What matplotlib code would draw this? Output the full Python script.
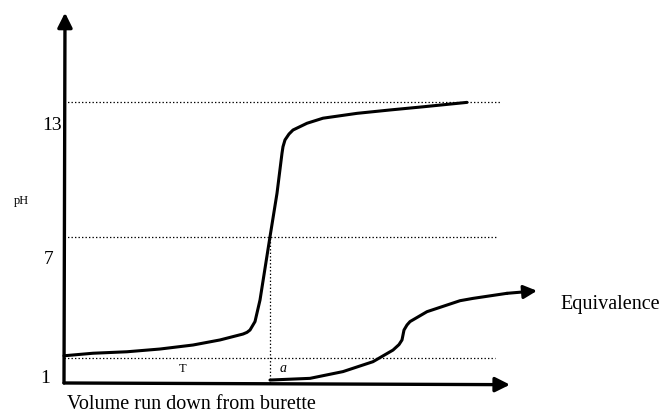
"""Titration curve sketch: pH vs volume run down from burette."""
import matplotlib
matplotlib.use("Agg")
import matplotlib.pyplot as plt

# curve 1: steep jump (volume units arbitrary, pH)
vol_a = [0.0, 2.9, 6.3, 9.6, 12.9, 15.6, 17.9, 18.3, 18.6, 19.1, 19.6, 20.6,
         21.3, 21.8, 21.9, 22.1, 22.5, 22.9, 24.3, 25.9, 29.3, 32.6, 35.9, 40.3]
ph_a = [2.29, 2.41, 2.48, 2.61, 2.80, 3.04, 3.32, 3.40, 3.51, 3.91, 4.93, 7.93,
        9.99, 11.89, 12.20, 12.52, 12.80, 12.99, 13.31, 13.55, 13.78, 13.94,
        14.09, 14.30]

# curve 2: slow rise, ends in an arrow
vol_b = [20.6, 24.6, 27.9, 30.9, 32.9, 33.5, 33.8, 34.0, 34.3, 34.6, 36.3,
         39.6, 40.9, 44.3]
ph_b = [1.14, 1.22, 1.54, 2.01, 2.56, 2.82, 3.04, 3.51, 3.75, 3.91, 4.38,
        4.90, 5.01, 5.25]
arrow_b_tip = (47.3, 5.37)

# dotted guides
guide_ph = [14.34, 7.93, 2.17]
guide_end = [43.6, 43.3, 43.1]
equiv_vol = 20.6
equiv_ph = 7.93

tick_labels = ["13", "7", "1"]
tick_pos = [(-1.2, 13.20), (-1.5, 6.83), (-1.9, 1.19)]

SERIF = ["Liberation Serif", "DejaVu Serif"]

fig = plt.figure(figsize=(6.66, 4.2), dpi=100)
ax = fig.add_axes([0, 0, 1, 1])
ax.set_xlim(-6.4, 60.2)
ax.set_ylim(-0.754, 19.152)
ax.axis("off")

# axes as arrows
arr = dict(arrowstyle="-|>", lw=2.4, color="black", mutation_scale=22,
           shrinkA=0, shrinkB=0)
ax.annotate("", xy=(0.1, 18.55), xytext=(0, 1.0), arrowprops=arr)
ax.annotate("", xy=(44.6, 0.92), xytext=(0, 1.0), arrowprops=arr)

# dotted guides
dots = (0, (1.1, 1.7))
for y, x1 in zip(guide_ph, guide_end):
    ax.plot([0, x1], [y, y], color="black", lw=0.9, ls=dots)
ax.plot([equiv_vol, equiv_vol], [1.0, equiv_ph], color="black", lw=0.9, ls=dots)

# curves
ax.plot(vol_a, ph_a, color="black", lw=2.2, solid_capstyle="round",
        solid_joinstyle="round")
ax.plot(vol_b, ph_b, color="black", lw=2.2, solid_capstyle="round",
        solid_joinstyle="round")
ax.annotate("", xy=arrow_b_tip, xytext=(vol_b[-1], ph_b[-1]),
            arrowprops=dict(arrowstyle="-|>", lw=2.2, color="black",
                            mutation_scale=20, shrinkA=0, shrinkB=0))

# labels
for lab, (x, y) in zip(tick_labels, tick_pos):
    ax.text(x, y, lab, ha="center", va="center", fontsize=14, family=SERIF)
ax.text(-4.3, 9.63, "pH", ha="center", va="center", fontsize=9, family=SERIF)
ax.text(12.7, -0.04, "Volume run down from burette", ha="center", va="center",
        fontsize=14.5, family=SERIF)
ax.text(49.6, 4.74, "Equivalence", ha="left", va="center", fontsize=14.5,
        family=SERIF)
ax.text(11.9, 1.65, "T", ha="center", va="center", fontsize=9, family=SERIF)
ax.text(21.9, 1.70, "a", ha="center", va="center", fontsize=10,
        style="italic", family=SERIF)

fig.savefig("out.png", dpi=100)
